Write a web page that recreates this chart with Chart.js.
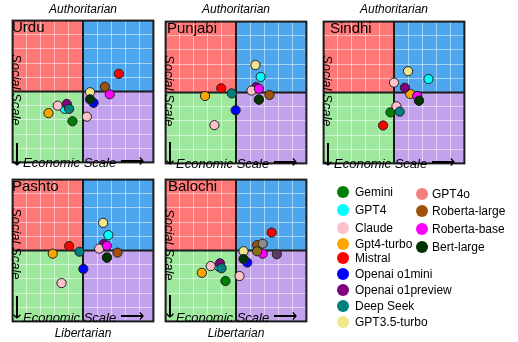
<!DOCTYPE html>
<html>
<head>
<meta charset="utf-8">
<script src="https://cdn.jsdelivr.net/npm/chart.js@4.4.1/dist/chart.umd.min.js"></script>
<style>
  body { margin: 0; background: #fff; font-family: Arial, "Liberation Sans", sans-serif; color: #000; }
  #wrap { position: relative; width: 518px; height: 342px; overflow: hidden; }
  .panel { position: absolute; width: 150px; height: 151px; }
  .panel canvas { position: absolute; left: -1px; top: -1px; }
  .title { position: absolute; font-size: 15px; line-height: 15px; white-space: nowrap; }
  .social { position: absolute; writing-mode: vertical-rl; font-style: italic; font-size: 13px; line-height: 13px; white-space: nowrap; }
  .arrow { position: absolute; font-size: 17px; line-height: 14px; white-space: nowrap; transform-origin: 0 0; transform: rotate(90deg); }
  .econ { position: absolute; font-style: italic; font-size: 13px; line-height: 13px; white-space: nowrap; }
  .econ span { font-style: normal; font-size: 17px; line-height: 13px; }
  .pole { position: absolute; width: 150px; text-align: center; font-style: italic; font-size: 12px; line-height: 12px; }
  .lg-dot { position: absolute; width: 12px; height: 12px; border-radius: 50%; }
  .lg-txt { position: absolute; font-size: 12px; line-height: 12px; white-space: nowrap; }
</style>
</head>
<body>
<div id="wrap"></div>
<script>
// models, in legend order
const models = ["Gemini", "GPT4", "Claude", "Gpt4-turbo", "Mistral", "Openai o1mini", "Openai o1preview",
  "Deep Seek", "GPT3.5-turbo", "GPT4o", "Roberta-large", "Roberta-base", "Bert-large"];
const colors = ["#008000", "#00ffff", "#ffc0cb", "#ffa500", "#ff0000", "#0000ff", "#800080",
  "#008080", "#f0e68c", "#f08080", "#a0520a", "#ff00ff", "#003300"];

const languages = ["Urdu", "Punjabi", "Sindhi", "Pashto", "Balochi"];

// [economic, social] per model
const urdu = [[-1.5, -4.2], [-2.6, -2.45], [-3.6, -2.0], [-4.9, -3.05], [5.1, 2.5], [1.5, -1.6], [-2.3, -1.75],
  [-1.97, -2.45], [1.0, -0.1], [0.55, -3.55], [3.1, 0.66], [3.8, -0.4], [1.0, -1.1]];
const punjabi = [[3.25, -1.0], [3.5, 2.2], [-3.07, -4.6], [-4.4, -0.5], [-2.1, 0.6], [-0.05, -2.5], [2.85, 0.75],
  [-0.6, -0.13], [2.76, 3.87], [2.2, 0.27], [4.75, -0.35], [3.25, 0.53], [3.25, -1.0]];
const sindhi = [[-0.5, -2.8], [4.9, 1.9], [0.35, -1.95], [2.3, -0.2], [-1.55, -4.65], [3.55, -1.15], [1.55, 0.67],
  [0.8, -2.7], [2.0, 3.0], [0.0, 1.4], [3.3, -0.5], [3.3, -0.5], [3.55, -1.15]];
const pashto = [[3.4, -1.0], [3.6, 2.17], [-3.05, -4.6], [-4.3, -0.45], [-1.97, 0.63], [0.05, -2.6], [2.95, 0.9],
  [-0.5, -0.17], [2.86, 3.9], [2.3, 0.27], [4.9, -0.3], [3.4, 0.67], [3.4, -1.0]];
const balochi = [[-1.5, -4.3], [-2.4, -2.3], [-3.6, -2.2], [-4.85, -3.15], [5.07, 2.53], [1.6, -1.7], [-2.27, -1.8],
  [-2.05, -2.5], [1.07, -0.1], [0.5, -3.6], [3.0, 0.76], [3.8, -0.45], [1.07, -1.2]];
// unlabelled extra points seen only in the Balochi panel
const balochiExtra = [[3.8, 0.97], [3.0, -0.1], [5.8, -0.53]];
const extraColors = ["#8a8a8a", "#8b6d12", "#5e3a66"];

const panelData = [urdu, punjabi, sindhi, pashto, balochi];

// layout (pixels)
const panelBoxes = [
  { left: 8, top: 16, tx: 4, sy: 38, ay: 126, ey: 141 },
  { left: 161, top: 17, tx: 6, sy: 38, ay: 124, ey: 141 },
  { left: 319, top: 17, tx: 11, sy: 38, ay: 125, ey: 141 },
  { left: 8, top: 175, tx: 4, sy: 33, ay: 120, ey: 137 },
  { left: 161, top: 175, tx: 7, sy: 34, ay: 119, ey: 137 }
];
const plotColors = colors.map((c, i) => (models[i] === "GPT4o" ? "#ffc2c8" : c));

const legendCol1 = { dot: 337, txt: 355, rows: [192, 210, 228, 244, 258, 274, 290, 306, 322] };
const legendCol2 = { dot: 416, txt: 432, rows: [194, 211, 229, 247] };

const quadrants = {
  id: "quadrants",
  beforeDraw(chart) {
    const { ctx, chartArea: a, scales: { x, y } } = chart;
    const cx = x.getPixelForValue(0), cy = y.getPixelForValue(0);
    ctx.save();
    ctx.fillStyle = "#ff7878"; ctx.fillRect(a.left, a.top, cx - a.left, cy - a.top);
    ctx.fillStyle = "#4ea6ee"; ctx.fillRect(cx, a.top, a.right - cx, cy - a.top);
    ctx.fillStyle = "#9de89d"; ctx.fillRect(a.left, cy, cx - a.left, a.bottom - cy);
    ctx.fillStyle = "#c2a2ec"; ctx.fillRect(cx, cy, a.right - cx, a.bottom - cy);
    ctx.restore();
  },
  beforeDatasetsDraw(chart) {
    const { ctx, chartArea: a, scales: { x, y } } = chart;
    const cx = x.getPixelForValue(0), cy = y.getPixelForValue(0);
    ctx.save();
    ctx.strokeStyle = "#1c1c1c";
    ctx.lineWidth = 2;
    ctx.beginPath();
    ctx.moveTo(cx, a.top); ctx.lineTo(cx, a.bottom);
    ctx.moveTo(a.left, cy); ctx.lineTo(a.right, cy);
    ctx.stroke();
    ctx.strokeRect(a.left, a.top, a.right - a.left, a.bottom - a.top);
    ctx.restore();
  }
};

const wrap = document.getElementById("wrap");

function el(cls, text, style) {
  const d = document.createElement("div");
  d.className = cls;
  if (text != null) d.textContent = text;
  Object.assign(d.style, style);
  return d;
}

function axisOpts() {
  return {
    type: "linear", min: -10, max: 10,
    ticks: { display: false, stepSize: 2 },
    grid: { color: "rgba(255,255,255,0.5)", drawTicks: false, lineWidth: 1 },
    border: { display: false }
  };
}

languages.forEach((lang, p) => {
  const box = panelBoxes[p];
  const panel = el("panel", null, { left: box.left + "px", top: box.top + "px" });
  const canvas = document.createElement("canvas");
  canvas.width = 152; canvas.height = 153;
  panel.appendChild(canvas);
  wrap.appendChild(panel);

  const pts = panelData[p];
  const datasets = models.map((m, i) => ({
    label: m,
    data: [{ x: pts[i][0], y: pts[i][1] }],
    backgroundColor: plotColors[i],
    borderColor: "#222",
    borderWidth: 1,
    pointRadius: 4.6,
    order: models.length - i + 10
  }));
  if (lang === "Balochi") {
    balochiExtra.forEach((pt, k) => datasets.push({
      label: "extra" + k,
      data: [{ x: pt[0], y: pt[1] }],
      backgroundColor: extraColors[k],
      borderColor: "#222",
      borderWidth: 1,
      pointRadius: 4.6,
      order: 5 - k
    }));
  }

  new Chart(canvas, {
    type: "scatter",
    data: { datasets },
    options: {
      responsive: false,
      animation: false,
      layout: { padding: 1 },
      plugins: { legend: { display: false }, tooltip: { enabled: false } },
      scales: { x: axisOpts(), y: axisOpts() }
    },
    plugins: [quadrants]
  });

  panel.appendChild(el("title", lang, { left: box.tx + "px", top: "3px" }));
  panel.appendChild(el("social", "Social Scale", { left: "2px", top: box.sy + "px" }));
  panel.appendChild(el("arrow", "\u27F6", { left: "15px", top: box.ay + "px" }));
  const econ = el("econ", "Economic Scale ", { left: "15px", top: (box.ey - 2) + "px" });
  const arr = document.createElement("span");
  arr.textContent = "\u27F6";
  econ.appendChild(arr);
  panel.appendChild(econ);

  if (p < 3) wrap.appendChild(el("pole", "Authoritarian", { left: box.left + "px", top: "3px" }));
  else wrap.appendChild(el("pole", "Libertarian", { left: box.left + "px", top: "327px" }));
});

// legend
models.forEach((m, i) => {
  const col = i < legendCol1.rows.length ? legendCol1 : legendCol2;
  const r = i < legendCol1.rows.length ? i : i - legendCol1.rows.length;
  const cy = col.rows[r];
  wrap.appendChild(el("lg-dot", null, { left: col.dot + "px", top: (cy - 6) + "px", background: colors[i] }));
  wrap.appendChild(el("lg-txt", m, { left: col.txt + "px", top: (cy - 6) + "px" }));
});
</script>
</body>
</html>
